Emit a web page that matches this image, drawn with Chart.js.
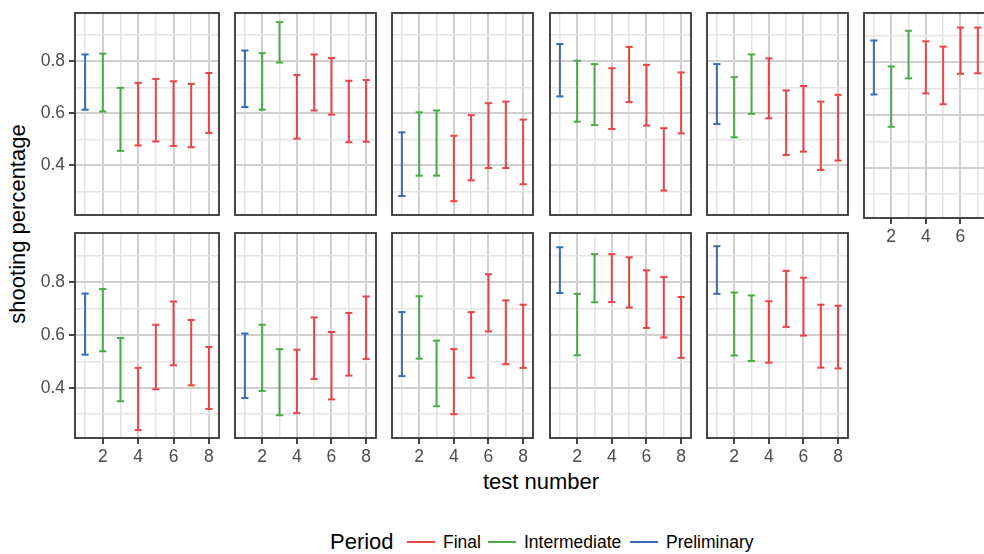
<!DOCTYPE html>
<html>
<head>
<meta charset="utf-8">
<title>Shooting percentage by test number</title>
<script src="https://cdn.jsdelivr.net/npm/chart.js@4.4.1/dist/chart.umd.min.js"></script>
<style>
  html, body { margin: 0; padding: 0; overflow: hidden; background: #fff; }
  #figure {
    position: relative; width: 984px; height: 554px; overflow: hidden;
    font-family: "Liberation Sans", Arial, sans-serif; color: #000;
  }
  #figure canvas { position: absolute; }
  .axis-title { position: absolute; font-size: 22px; white-space: nowrap; }
  #yTitle { left: 18px; top: 224px; transform: translate(-50%, -50%) rotate(-90deg); }
  #xTitle { left: 541px; top: 482px; transform: translate(-50%, -50%); }
  .legend-text { position: absolute; top: 542px; transform: translateY(-50%); white-space: nowrap; font-size: 17.5px; }
  .legend-key { position: absolute; top: 541px; width: 28px; height: 2px; }
</style>
</head>
<body>
<div id="figure">
  <div id="yTitle" class="axis-title">shooting percentage</div>
  <div id="xTitle" class="axis-title">test number</div>
  <div id="legend"></div>
</div>

<script>
// Test numbers and which period each test belongs to
const tests = [1, 2, 3, 4, 5, 6, 7, 8];
const periods = ["Preliminary", "Intermediate", "Intermediate", "Final", "Final", "Final", "Final", "Final"];
const legendOrder = ["Final", "Intermediate", "Preliminary"];

// Lower / upper ends of each error bar, one row per panel (top row then bottom row)
const lower = [
  [0.614, 0.607, 0.456, 0.477, 0.492, 0.475, 0.470, 0.525],
  [0.624, 0.614, 0.795, 0.503, 0.611, 0.595, 0.489, 0.491],
  [0.283, 0.361, 0.361, 0.263, 0.343, 0.390, 0.390, 0.328],
  [0.665, 0.568, 0.555, 0.540, 0.643, 0.553, 0.304, 0.523],
  [0.559, 0.508, 0.598, 0.581, 0.440, 0.453, 0.383, 0.419],
  [0.677, 0.555, 0.738, 0.681, 0.640, 0.755, 0.757, 0.740],
  [0.525, 0.538, 0.349, 0.240, 0.394, 0.485, 0.409, 0.320],
  [0.361, 0.388, 0.296, 0.304, 0.433, 0.356, 0.446, 0.509],
  [0.444, 0.510, 0.330, 0.300, 0.438, 0.613, 0.489, 0.475],
  [0.758, 0.523, 0.723, 0.724, 0.703, 0.626, 0.590, 0.513],
  [0.755, 0.522, 0.501, 0.495, 0.630, 0.597, 0.476, 0.473],
];
const upper = [
  [0.826, 0.829, 0.698, 0.717, 0.732, 0.723, 0.713, 0.755],
  [0.841, 0.831, 0.950, 0.747, 0.826, 0.812, 0.725, 0.728],
  [0.527, 0.604, 0.611, 0.514, 0.593, 0.639, 0.645, 0.576],
  [0.866, 0.802, 0.789, 0.773, 0.855, 0.786, 0.543, 0.757],
  [0.789, 0.739, 0.826, 0.811, 0.688, 0.705, 0.645, 0.671],
  [0.881, 0.783, 0.918, 0.878, 0.858, 0.930, 0.930, 0.920],
  [0.756, 0.773, 0.588, 0.475, 0.638, 0.726, 0.656, 0.554],
  [0.605, 0.638, 0.546, 0.544, 0.666, 0.611, 0.683, 0.745],
  [0.686, 0.746, 0.578, 0.546, 0.686, 0.829, 0.730, 0.714],
  [0.931, 0.755, 0.905, 0.905, 0.893, 0.844, 0.819, 0.743],
  [0.935, 0.760, 0.749, 0.727, 0.842, 0.816, 0.714, 0.710],
];

// Axis ticks (major ones get labels, minor ones only grid lines)
const yTicks = [0.3, 0.4, 0.5, 0.6, 0.7, 0.8, 0.9];
const yLabelled = [0.4, 0.6, 0.8];
const xLabelled = [2, 4, 6, 8];

// Styling / layout
const colors = { Final: "#e8454a", Intermediate: "#4aab48", Preliminary: "#386cb4" };
const yMin = 0.21, yMax = 0.985;
const xMin = 0.43, xMax = 8.57;
const panelLefts = [75, 232, 389, 547, 704, 861];
const panelTops = [10, 230];
const panelW = 147, panelH = 208;
const pad = 3;

const fig = document.getElementById("figure");

// Draw the dark frame round each facet
const panelFrame = {
  id: "panelFrame",
  afterDraw(chart) {
    const { ctx, chartArea: a } = chart;
    ctx.save();
    ctx.strokeStyle = "#333333";
    ctx.lineWidth = 1.8;
    ctx.strokeRect(a.left, a.top, a.right - a.left, a.bottom - a.top);
    ctx.restore();
  },
};

// One line dataset per period, each error bar is a low->high segment broken by a null
function buildDatasets(p) {
  return legendOrder.map((period) => {
    const data = [];
    tests.forEach((t, i) => {
      if (periods[i] !== period) return;
      data.push({ x: t, y: lower[p][i] }, { x: t, y: upper[p][i] }, { x: t, y: null });
    });
    return {
      label: period,
      data: data,
      borderColor: colors[period],
      backgroundColor: colors[period],
      borderWidth: 2,
      pointStyle: "line",
      pointRadius: 3.6,
      pointBorderWidth: 2,
      pointBorderColor: colors[period],
      spanGaps: false,
      tension: 0,
    };
  });
}

function gridColor(isMajor) {
  return isMajor ? "#d2cfcf" : "#e6e3e3";
}

function makePanel(p, row, col) {
  const showY = col === 0;
  const showX = row === 1 || col === 5;
  const yW = showY ? 75 : 0;
  const xH = showX ? 40 : 0;

  const canvas = document.createElement("canvas");
  canvas.width = panelW + yW + 2 * pad;
  canvas.height = panelH + xH + 2 * pad;
  canvas.style.left = panelLefts[col] - yW - pad + "px";
  canvas.style.top = panelTops[row] - pad + "px";
  fig.appendChild(canvas);

  new Chart(canvas.getContext("2d"), {
    type: "line",
    data: { datasets: buildDatasets(p) },
    options: {
      responsive: false,
      animation: false,
      events: [],
      layout: { padding: pad },
      plugins: { legend: { display: false }, tooltip: { enabled: false } },
      scales: {
        x: {
          type: "linear",
          min: xMin,
          max: xMax,
          afterBuildTicks: (s) => {
            s.ticks = tests.map((v) => ({ value: v }));
          },
          afterFit: (s) => {
            s.height = xH;
            s.paddingLeft = 0;
            s.paddingRight = 0;
          },
          ticks: {
            display: showX,
            autoSkip: false,
            maxRotation: 0,
            padding: 3,
            color: "#4d4d4d",
            font: { size: 17.5 },
            callback: (v) => (xLabelled.includes(v) ? String(v) : ""),
          },
          grid: {
            color: (c) => gridColor(c.tick && xLabelled.includes(c.tick.value)),
            lineWidth: (c) => (c.tick && xLabelled.includes(c.tick.value) ? 2 : 1.5),
            drawTicks: showX,
            tickLength: 6,
            tickWidth: 1.8,
            tickColor: (c) => (c.tick && xLabelled.includes(c.tick.value) ? "#333333" : "rgba(0,0,0,0)"),
          },
          border: { display: false },
        },
        y: {
          type: "linear",
          min: yMin,
          max: yMax,
          afterBuildTicks: (s) => {
            s.ticks = yTicks.map((v) => ({ value: v }));
          },
          afterFit: (s) => {
            s.width = yW;
            s.paddingTop = 0;
            s.paddingBottom = 0;
          },
          ticks: {
            display: showY,
            autoSkip: false,
            padding: 4,
            color: "#4d4d4d",
            font: { size: 17.5 },
            callback: (v) => (yLabelled.includes(v) ? v.toFixed(1) : ""),
          },
          grid: {
            color: (c) => gridColor(c.tick && yLabelled.includes(c.tick.value)),
            lineWidth: (c) => (c.tick && yLabelled.includes(c.tick.value) ? 2 : 1.5),
            drawTicks: showY,
            tickLength: 6,
            tickWidth: 1.8,
            tickColor: (c) => (c.tick && yLabelled.includes(c.tick.value) ? "#333333" : "rgba(0,0,0,0)"),
          },
          border: { display: false },
        },
      },
    },
    plugins: [panelFrame],
  });
}

Chart.defaults.font.family = '"Liberation Sans", Arial, sans-serif';

// 6 facets in the top row, 5 in the bottom row
lower.forEach((_, p) => {
  const row = p < 6 ? 0 : 1;
  const col = row === 0 ? p : p - 6;
  makePanel(p, row, col);
});

// Legend at the bottom
const legend = document.getElementById("legend");
const legendItems = [
  { text: "Period", left: 330, size: 22 },
  { key: "Final", left: 407 },
  { text: "Final", left: 443 },
  { key: "Intermediate", left: 488 },
  { text: "Intermediate", left: 524 },
  { key: "Preliminary", left: 630 },
  { text: "Preliminary", left: 666 },
];
legendItems.forEach((item) => {
  const el = document.createElement("div");
  if (item.key) {
    el.className = "legend-key";
    el.style.background = colors[item.key];
  } else {
    el.className = "legend-text";
    el.textContent = item.text;
    if (item.size) el.style.fontSize = item.size + "px";
  }
  el.style.left = item.left + "px";
  legend.appendChild(el);
});
</script>
</body>
</html>
